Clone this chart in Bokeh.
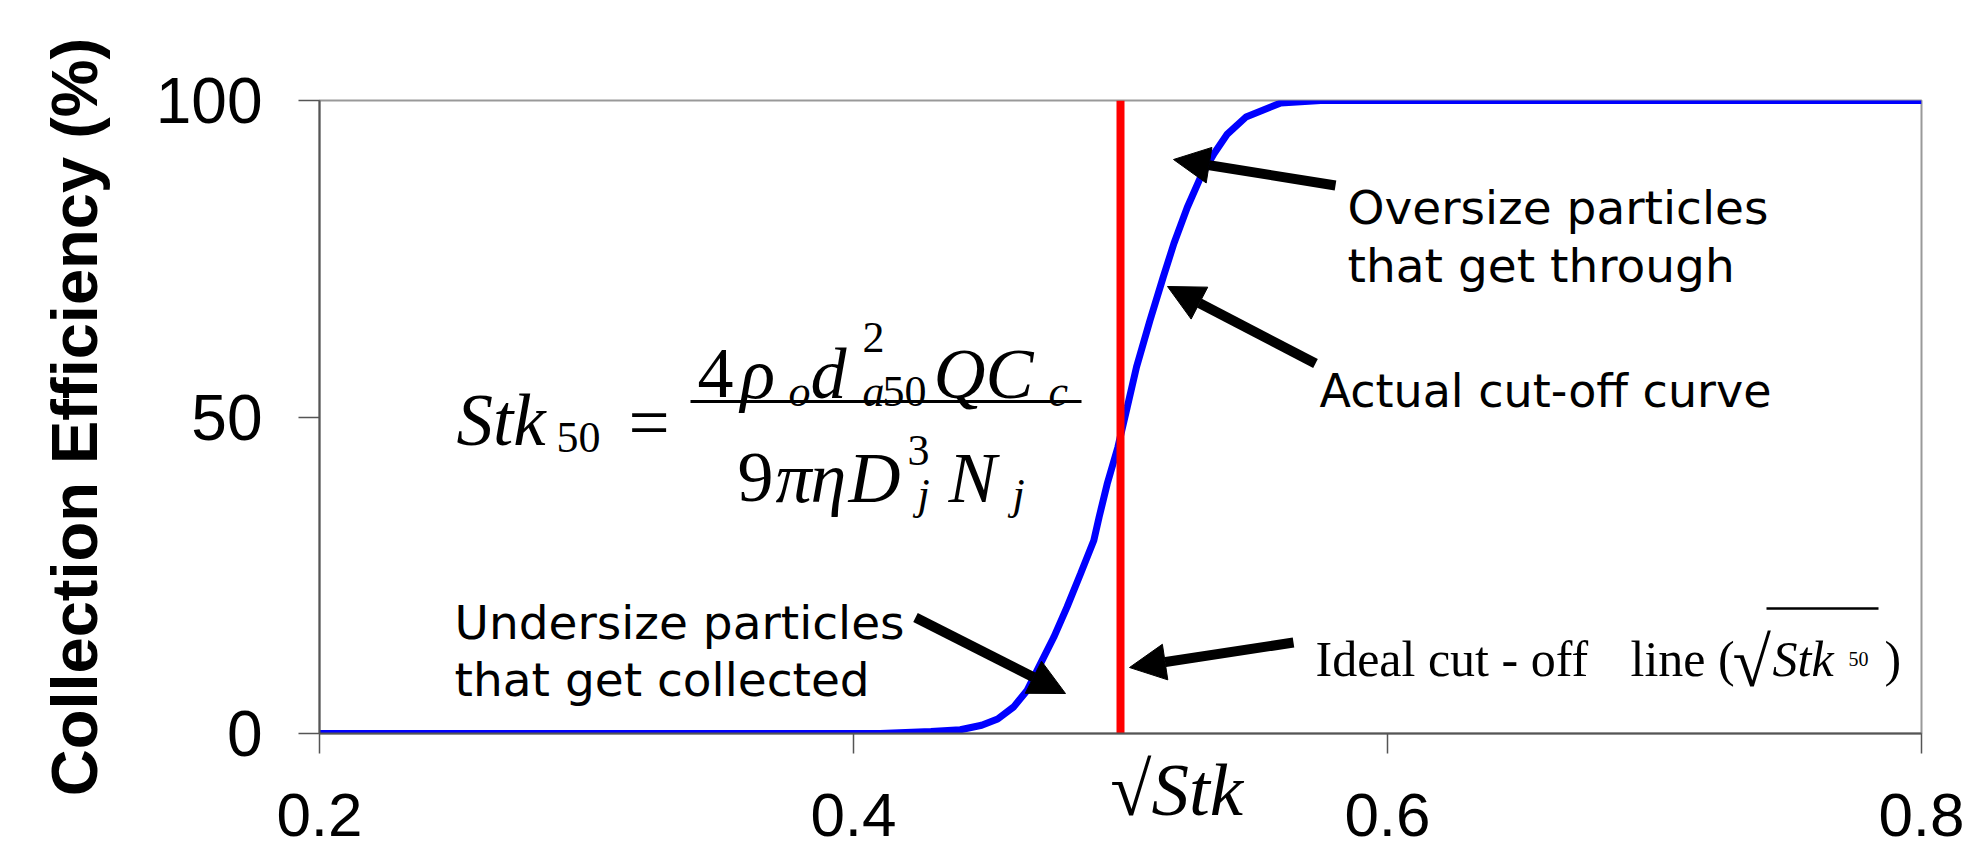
from bokeh.plotting import figure
from bokeh.models import Range1d, FixedTicker, Label, Arrow, NormalHead
from bokeh.embed import file_html
from bokeh.resources import INLINE

# ---------------- data ----------------
x_ticks = [0.2, 0.4, 0.6, 0.8]
y_ticks = [0, 50, 100]

# actual cut-off curve (sqrt(Stk) vs collection efficiency %)
stk_sqrt = [0.200, 0.410, 0.429, 0.440, 0.448, 0.454, 0.460, 0.465, 0.470,
            0.475, 0.480, 0.485, 0.490, 0.492, 0.495, 0.499, 0.5025, 0.506,
            0.511, 0.516, 0.520, 0.525, 0.530, 0.535, 0.540, 0.547, 0.560,
            0.575, 0.800]
efficiency = [0, 0, 0.3, 0.6, 1.3, 2.3, 4.2, 6.8, 11.0,
              15.2, 20.0, 25.2, 30.5, 34.2, 39.4, 45.2, 51.5, 57.9,
              65.2, 72.1, 77.4, 83.1, 87.9, 91.6, 94.7, 97.4, 99.6,
              100, 100]

# ideal cut-off line
ideal_x = [0.5, 0.5]
ideal_y = [0, 100]

X_MIN, X_MAX = 0.2, 0.8
Y_MIN, Y_MAX = 0, 100

# page-pixel -> data helpers for annotation placement
F_L, F_R, F_T, F_B = 319, 1921, 100, 733
W, H = 1979, 854
def dx(px):
    return X_MIN + (px - F_L) / (F_R - F_L) * (X_MAX - X_MIN)
def dy(py):
    return Y_MIN + (F_B - py) / (F_B - F_T) * (Y_MAX - Y_MIN)

p = figure(width=W, height=H,
           x_range=Range1d(X_MIN, X_MAX), y_range=Range1d(Y_MIN, Y_MAX),
           output_backend="svg", toolbar_location=None,
           min_border_left=F_L, min_border_right=W - F_R,
           min_border_top=F_T, min_border_bottom=H - F_B)
p.background_fill_color = "white"
p.border_fill_color = "white"
p.outline_line_color = "#999999"
p.outline_line_width = 2
p.grid.visible = False

p.xaxis.ticker = FixedTicker(ticks=x_ticks)
p.yaxis.ticker = FixedTicker(ticks=y_ticks)
for ax in (p.xaxis, p.yaxis):
    ax.axis_line_color = "#555555"
    ax.axis_line_width = 2
    ax.major_tick_line_color = "#555555"
    ax.major_tick_line_width = 1.5
    ax.minor_tick_line_color = None
    ax.major_tick_in = 0
    ax.major_label_text_color = "black"
    ax.major_label_text_font = "Liberation Sans"

p.xaxis.major_tick_out = 20
p.xaxis.major_label_text_font_size = "62px"
p.xaxis.major_label_standoff = 40
# sqrt(Stk) label sitting in the tick-label band, right of centre
p.xaxis.axis_label = "\u00a0" * 6 + "√Stk"
p.xaxis.axis_label_text_font = "Liberation Serif"
p.xaxis.axis_label_text_font_style = "italic"
p.xaxis.axis_label_text_font_size = "75px"
p.xaxis.axis_label_text_color = "black"
p.xaxis.axis_label_standoff = -91

p.yaxis.major_tick_out = 21
p.yaxis.major_label_text_font_size = "64px"
p.yaxis.major_label_standoff = 36
p.yaxis.axis_label = "Collection Efficiency (%)"
p.yaxis.axis_label_text_font = "Liberation Sans"
p.yaxis.axis_label_text_font_style = "bold"
p.yaxis.axis_label_text_font_size = "65px"
p.yaxis.axis_label_text_color = "black"
p.yaxis.axis_label_standoff = 42

# curves
p.line(stk_sqrt, efficiency, line_color="#0000FF", line_width=7)
p.line(ideal_x, ideal_y, line_color="#FF0000", line_width=8)

# arrows (tail px, tail py, tip px, tip py) in page pixels
arrows = [
    (1335, 185, 1173, 159),
    (1315, 363, 1167, 286),
    (915, 617, 1065, 693),
    (1293, 642, 1129, 667),
]
for x0, y0, x1, y1 in arrows:
    p.add_layout(Arrow(x_start=dx(x0), y_start=dy(y0), x_end=dx(x1), y_end=dy(y1),
                       line_width=10, line_color="black",
                       end=NormalHead(size=36, fill_color="black",
                                      line_color="black", line_width=1)))

def add_text(txt, px, py, size, font, style="normal"):
    p.add_layout(Label(x=dx(px), y=dy(py), text=txt, text_font=font,
                       text_font_size=f"{size}px", text_font_style=style,
                       text_align="left", text_baseline="alphabetic",
                       text_color="black"))

SANS = "DejaVu Sans"
SERIF = "Liberation Serif"

add_text("Oversize particles", 1347, 207, 47, SANS)
add_text("that get through", 1347, 265, 47, SANS)
add_text("Actual cut-off curve", 1319, 390, 46, SANS)
add_text("Undersize particles", 454, 622, 47, SANS)
add_text("that get collected", 454, 679, 47, SANS)

# formula Stk50 = 4 rho_o d_a50^2 Q C_c / (9 pi eta D_j^3 N_j)
add_text("Stk", 456, 420, 73, SERIF, "italic")
add_text("50", 556, 437, 44, SERIF)
add_text("=", 628, 422, 73, SERIF)
add_text("4", 697, 373, 72, SERIF)
add_text("ρ", 740, 373, 72, SERIF, "italic")
add_text("o", 788, 391, 44, SERIF, "italic")
add_text("d", 810, 373, 72, SERIF, "italic")
add_text("2", 862, 337, 44, SERIF)
add_text("a", 862, 391, 44, SERIF, "italic")
add_text("50", 882, 391, 44, SERIF)
add_text("QC", 933, 373, 72, SERIF, "italic")
add_text("c", 1048, 391, 44, SERIF, "italic")
add_text("9", 737, 477, 72, SERIF)
add_text("π", 775, 477, 72, SERIF, "italic")
add_text("η", 810, 477, 72, SERIF, "italic")
add_text("D", 848, 477, 72, SERIF, "italic")
add_text("3", 907, 450, 44, SERIF)
add_text("j", 917, 494, 44, SERIF, "italic")
add_text("N", 948, 477, 72, SERIF, "italic")
add_text("j", 1012, 494, 44, SERIF, "italic")

# ideal cut-off label
add_text("Ideal cut - off", 1315, 658, 50, SERIF)
add_text("line (", 1630, 658, 50, SERIF)
add_text("√", 1732, 662, 70, SERIF)
add_text("Stk", 1772, 658, 50, SERIF, "italic")
add_text("50", 1848, 658, 20, SERIF)
add_text(")", 1884, 658, 50, SERIF)

# fraction bar and radical overline
rules = [
    (690, 401, 1081, 401, 3),
    (1766, 608, 1878, 608, 2.5),
]
for x0, y0, x1, y1, w in rules:
    p.add_layout(Arrow(x_start=dx(x0), y_start=dy(y0), x_end=dx(x1), y_end=dy(y1),
                       line_width=w, line_color="black", start=None, end=None))

open("out.html", "w").write(file_html(p, INLINE))
